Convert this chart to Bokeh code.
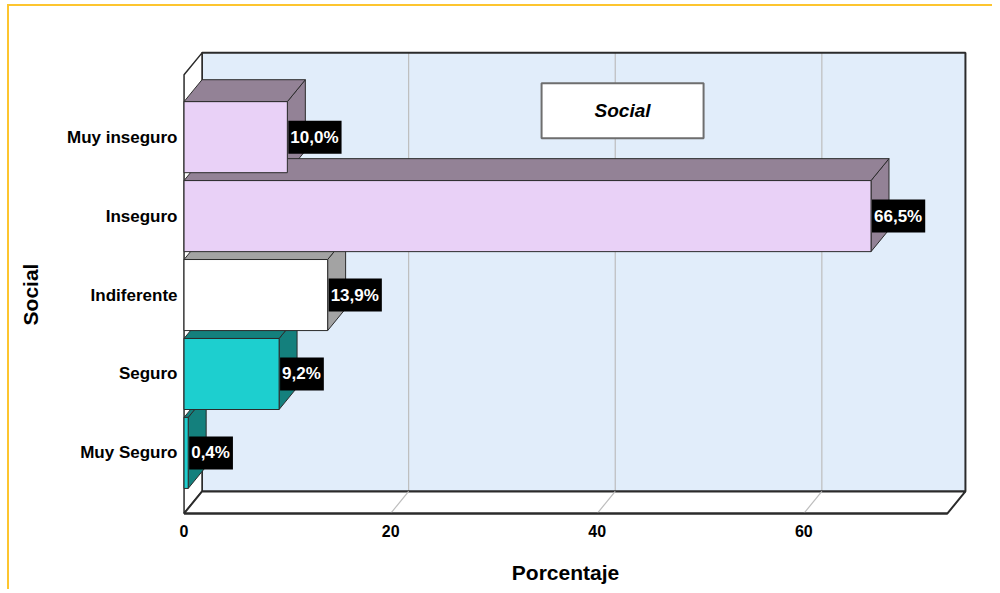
from bokeh.plotting import figure
from bokeh.models import Range1d, FixedTicker, ColumnDataSource
from bokeh.core.properties import value
from bokeh.embed import file_html
from bokeh.resources import INLINE

# ---------------- data ----------------
categories = ["Muy Seguro", "Seguro", "Indiferente", "Inseguro", "Muy inseguro"]
percentages = [0.4, 9.2, 13.9, 66.5, 10.0]
value_labels = ["0,4%", "9,2%", "13,9%", "66,5%", "10,0%"]
x_ticks = [0, 20, 40, 60]

# ---------------- styles ----------------
front_colors = ["#1DCFCF", "#1DCFCF", "#FFFFFF", "#E9D1F7", "#E9D1F7"]
side_colors = ["#14807D", "#14807D", "#A3A3A3", "#938296", "#938296"]
WALL = "#E1EDFA"
EDGE = "#2B2B2B"
GRID = "#BDBDBD"
FONT = "Liberation Sans"

# 3-D geometry (in data units)
X_MAX = 73.9          # right end of the front plane
DX = 1.74             # depth shift in x
DY = 0.278            # depth shift in y
Y_LO, Y_HI = -0.766, 4.79
HALF = 0.45           # half bar thickness

p = figure(width=985, height=585, output_backend="svg", toolbar_location=None,
           x_range=Range1d(-1.99, X_MAX + DX + 0.2),
           y_range=Range1d(Y_LO - 0.318, Y_HI + DY + 0.03),
           min_border_left=154, min_border_top=44, min_border_right=27, min_border_bottom=53)
p.styles = {"margin-left": "7px", "margin-top": "4px",
            "border-top": "2px solid #FDC52F", "border-left": "2px solid #FDC52F"}
p.outline_line_color = None
p.xgrid.visible = False
p.ygrid.visible = False
p.background_fill_color = "white"
p.border_fill_color = "white"

# axes
p.xaxis.ticker = FixedTicker(ticks=x_ticks)
p.xaxis.axis_line_color = None
p.xaxis.major_tick_line_color = None
p.xaxis.minor_tick_line_color = None
p.xaxis.major_tick_out = 0
p.xaxis.major_tick_in = 0
p.xaxis.major_label_standoff = -14
p.xaxis.major_label_text_font = FONT
p.xaxis.major_label_text_font_style = "bold"
p.xaxis.major_label_text_font_size = "16px"
p.xaxis.major_label_text_color = "black"
p.xaxis.axis_label = "Porcentaje"
p.xaxis.axis_label_standoff = 21
p.xaxis.axis_label_text_font = FONT
p.xaxis.axis_label_text_font_style = "bold"
p.xaxis.axis_label_text_font_size = "21px"
p.xaxis.axis_label_text_color = "black"

cat_pos = list(range(len(categories)))
p.yaxis.ticker = FixedTicker(ticks=cat_pos)
p.yaxis.major_label_overrides = {i: c for i, c in zip(cat_pos, categories)}
p.yaxis.axis_line_color = None
p.yaxis.major_tick_line_color = None
p.yaxis.minor_tick_line_color = None
p.yaxis.major_tick_out = 0
p.yaxis.major_tick_in = 0
p.yaxis.major_label_standoff = -14
p.yaxis.major_label_text_font = FONT
p.yaxis.major_label_text_font_style = "bold"
p.yaxis.major_label_text_font_size = "17px"
p.yaxis.major_label_text_color = "black"
p.yaxis.axis_label = "Social"
p.yaxis.axis_label_standoff = 22
p.yaxis.axis_label_text_font = FONT
p.yaxis.axis_label_text_font_style = "bold"
p.yaxis.axis_label_text_font_size = "21px"
p.yaxis.axis_label_text_color = "black"

# ---------------- walls ----------------
p.quad(left=DX, right=X_MAX + DX, bottom=Y_LO + DY, top=Y_HI + DY,
       fill_color=WALL, line_color=None)
grid_t = [t for t in x_ticks if t > 0]
p.segment(x0=[t + DX for t in grid_t], y0=[Y_LO + DY] * len(grid_t),
          x1=[t + DX for t in grid_t], y1=[Y_HI + DY] * len(grid_t),
          line_color=GRID, line_width=1.2)
p.quad(left=DX, right=X_MAX + DX, bottom=Y_LO + DY, top=Y_HI + DY,
       fill_color=None, line_color=EDGE, line_width=2)
# left wall
p.patch([0, DX, DX, 0], [Y_LO, Y_LO + DY, Y_HI + DY, Y_HI],
        fill_color="white", line_color=EDGE, line_width=1.5)
# floor
p.patch([0, DX, X_MAX + DX, X_MAX], [Y_LO, Y_LO + DY, Y_LO + DY, Y_LO],
        fill_color="white", line_color=EDGE, line_width=2)
p.segment(x0=grid_t, y0=[Y_LO] * len(grid_t),
          x1=[t + DX for t in grid_t], y1=[Y_LO + DY] * len(grid_t),
          line_color=GRID, line_width=1.2)
p.line([0, X_MAX], [Y_LO, Y_LO], line_color=EDGE, line_width=2)

# ---------------- 3-D bars ----------------
side_xs, side_ys, top_xs, top_ys = [], [], [], []
for c, v in zip(cat_pos, percentages):
    side_xs.append([v, v + DX, v + DX, v])
    side_ys.append([c - HALF, c - HALF + DY, c + HALF + DY, c + HALF])
    top_xs.append([0, v, v + DX, DX])
    top_ys.append([c + HALF, c + HALF, c + HALF + DY, c + HALF + DY])

p.patches(side_xs, side_ys, fill_color=side_colors, line_color=EDGE, line_width=1)
p.patches(top_xs, top_ys, fill_color=side_colors, line_color=EDGE, line_width=1)
p.quad(left=[0] * len(percentages), right=percentages,
       bottom=[c - HALF for c in cat_pos], top=[c + HALF for c in cat_pos],
       fill_color=front_colors, line_color=EDGE, line_width=1)

# value labels
src = ColumnDataSource(dict(x=percentages, y=cat_pos, t=value_labels))
p.text(x="x", y="y", text="t", source=src, text_align="left", text_baseline="middle",
       text_color="white", text_font=value(FONT), text_font_style="bold",
       text_font_size="17px", background_fill_color="black",
       padding=dict(left=2, right=3, top=7, bottom=7), x_offset=1)

# legend-like box
p.rect(x=[42.45], y=[4.335], width=162, height=55, width_units="screen", height_units="screen",
       fill_color="white", line_color="#6E6E6E", line_width=2)
p.text(x=[42.45], y=[4.335], text=["Social"], text_align="center", text_baseline="middle",
       text_font=value(FONT), text_font_style="bold italic", text_font_size="19px",
       text_color="black")

open("out.html", "w").write(file_html(p, INLINE))
